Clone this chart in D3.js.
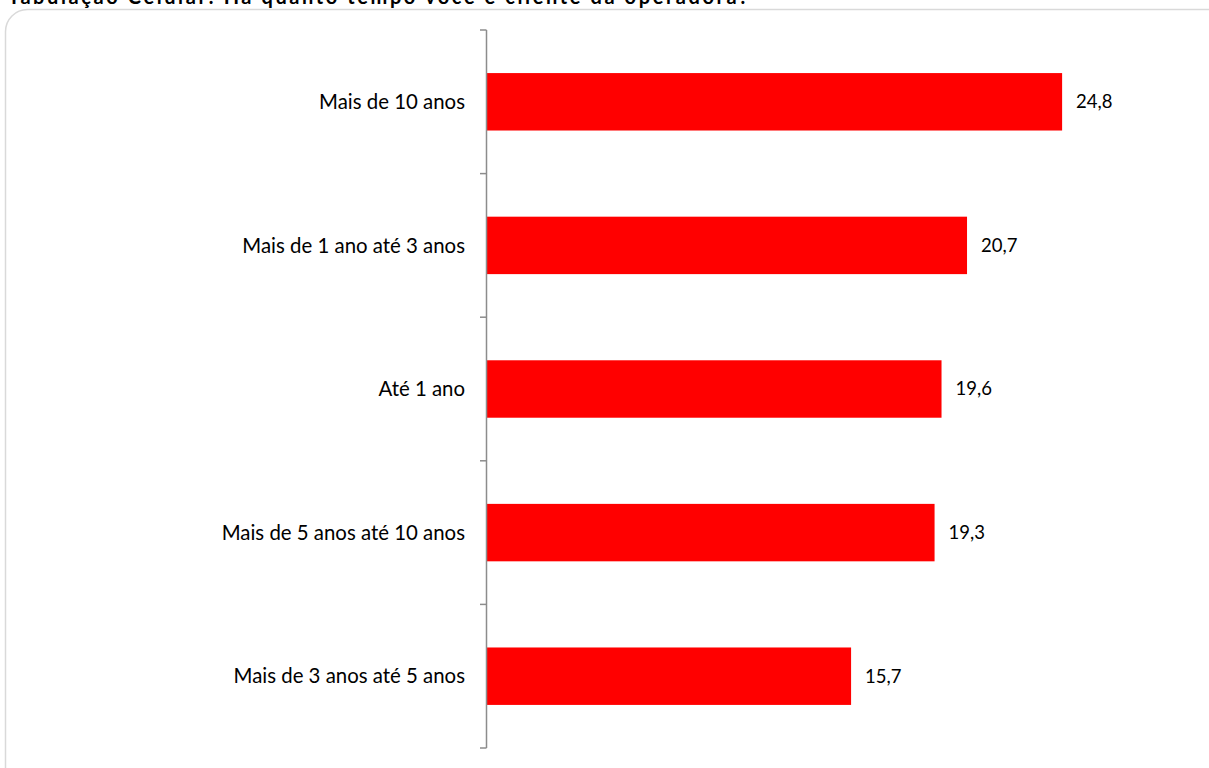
<!DOCTYPE html>
<html><head><meta charset="utf-8">
<script src="https://cdn.jsdelivr.net/npm/d3@7"></script>
<style>body{margin:0;background:#fff;}svg{display:block;}</style>
</head><body>
<svg id="c" width="1209" height="768"></svg>
<script>
const title = "Tabulação Celular: Há quanto tempo você é cliente da operadora?";
const categories = ["Mais de 10 anos","Mais de 1 ano até 3 anos","Até 1 ano","Mais de 5 anos até 10 anos","Mais de 3 anos até 5 anos"];
const values = [24.8, 20.7, 19.6, 19.3, 15.7];
const labels = ["24,8","20,7","19,6","19,3","15,7"];

const svg = d3.select("#c");
const font = "Lato, 'Open Sans', sans-serif";
svg.append("rect").attr("x",5.5).attr("y",9.5).attr("width",1230).attr("height",790)
  .attr("rx",22).attr("fill","#fff").attr("stroke","#d9d9d9").attr("stroke-width",1.5);
svg.append("text").attr("x",8).attr("y",4).text(title)
  .attr("font-family",font).attr("font-weight","bold").attr("font-size",20)
  .attr("textLength",740).attr("lengthAdjust","spacing").attr("fill","#000");

const x0 = 487;
const x = d3.scaleLinear().domain([0,30]).range([x0, x0 + 30*23.19]);
const y = d3.scaleBand().domain(categories).range([30,748]).paddingInner(0.6).paddingOuter(0.3);

svg.selectAll("rect.bar").data(categories).join("rect").attr("class","bar")
  .attr("x", x(0)).attr("y", d=>y(d)).attr("height", y.bandwidth())
  .attr("width", (d,i)=>x(values[i])-x(0)).attr("fill","#ff0000");

svg.selectAll("text.val").data(categories).join("text").attr("class","val")
  .attr("x",(d,i)=>x(values[i])+14).attr("y",d=>y(d)+y.bandwidth()/2).attr("dy","0.35em")
  .text((d,i)=>labels[i]).attr("font-family",font).attr("font-size",18.5).attr("fill","#000");

svg.selectAll("text.cat").data(categories).join("text").attr("class","cat")
  .attr("x",465).attr("y",d=>y(d)+y.bandwidth()/2).attr("dy","0.35em").attr("text-anchor","end")
  .text(d=>d).attr("font-family",font).attr("font-size",20.4).attr("fill","#000");

// axis line and ticks at band boundaries
const bounds = d3.range(categories.length+1).map(i=>30 + i*(718/categories.length));
const g = svg.append("g").attr("stroke","#8c8c8c").attr("stroke-width",1.5);
g.append("line").attr("x1",x0-0.5).attr("x2",x0-0.5).attr("y1",30).attr("y2",748);
g.selectAll("line.t").data(bounds).join("line").attr("class","t")
  .attr("x1",x0-7).attr("x2",x0-0.5).attr("y1",d=>d).attr("y2",d=>d);
</script>
</body></html>
